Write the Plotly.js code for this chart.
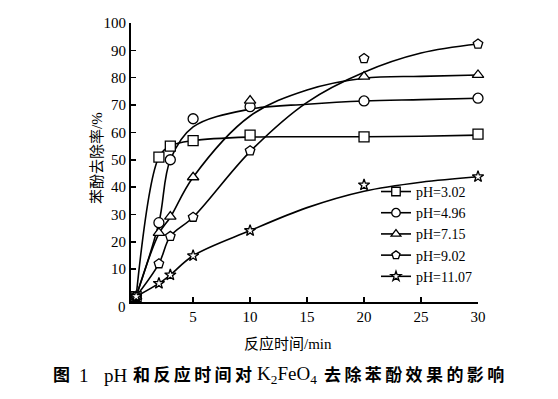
<!DOCTYPE html>
<html><head><meta charset="utf-8">
<script src="https://cdn.plot.ly/plotly-3.0.1.min.js"></script>
<style>html,body{margin:0;padding:0;background:#fff}</style>
</head><body><div id="chart" style="width:558px;height:399px"></div>
<script>
// Measured points (reaction time, min) and phenol removal rate (%)
const timeMin = [0, 2, 3, 5, 10, 20, 30];
const seriesNames = ['pH=3.02', 'pH=4.96', 'pH=7.15', 'pH=9.02', 'pH=11.07'];
const rate_pH302 = [0, 51, 55, 57, 59, 58.4, 59.4];
const rate_pH496 = [0, 27, 50, 65, 69.4, 71.5, 72.5];
const rate_pH715 = [0, 23.3, 29.2, 43.6, 71.6, 80.4, 81];
const rate_pH902 = [0, 12, 22, 29, 53.3, 87, 92.3];
const rate_pH1107 = [0, 4.8, 7.9, 14.9, 24.1, 40.8, 43.8];
// Fitted curves
const fitTime = [0, 2, 3, 5, 10, 15, 20, 25, 30];
const fit_pH302 = [0, 51, 55, 57, 58.3, 58.4, 58.4, 58.6, 59];
const fit_pH496 = [0, 27, 50, 62, 68.5, 70.3, 71.5, 72, 72.5];
const fit_pH715 = [0, 23, 29, 43.6, 66, 75.5, 79.8, 80.5, 81];
const fit_pH902 = [0, 12, 22, 29, 53, 71, 82, 89, 92.3];
const fit_pH1107 = [0, 4.8, 7.9, 14.9, 24.1, 32.5, 38.5, 41.8, 43.8];
const xTicks = [5, 10, 15, 20, 25, 30];
const yTicks = [10, 20, 30, 40, 50, 60, 70, 80, 90, 100];

const measured = [rate_pH302, rate_pH496, rate_pH715, rate_pH902, rate_pH1107];
const fitted = [fit_pH302, fit_pH496, fit_pH715, fit_pH902, fit_pH1107];
const symbols = ['square', 'circle', 'triangle-up', 'pentagon', 'star'];
const sizes = [10, 10, 10, 10, 8.5];
const legendSizes = [8.5, 8.5, 8.5, 8.5, 7.5];

const serif = 'Liberation Serif, Times New Roman, Noto Sans CJK SC, serif';
const traces = [];
fitted.forEach((f, i) => traces.push({
  x: fitTime, y: f, mode: 'lines', type: 'scatter', showlegend: false,
  line: {color: '#000', width: 1.6, shape: 'spline', smoothing: 1}, hoverinfo: 'skip'
}));
measured.forEach((m, i) => traces.push({
  x: timeMin, y: m, mode: 'markers', type: 'scatter', showlegend: false,
  marker: {symbol: symbols[i], size: sizes[i], color: '#fff', line: {color: '#000', width: 1.3}},
  cliponaxis: false
}));
seriesNames.forEach((n, i) => traces.push({
  x: [null], y: [null], mode: 'lines+markers', type: 'scatter', name: n,
  line: {color: '#000', width: 1.6},
  marker: {symbol: symbols[i], size: legendSizes[i], color: '#fff', line: {color: '#000', width: 1.3}}
}));

const px = v => (v - 131) / 347;
const py = v => (302 - v) / 279;
const capY = py(375);
const ts = '\u2009';
const capFontB = {family: serif, size: 17, color: '#000', weight: 700};
const capFontR = {family: serif, size: 19, color: '#000'};
function cap(text, x, font) {
  return {text: text, xref: 'paper', yref: 'paper', x: px(x), y: capY, xanchor: 'left', yanchor: 'middle',
          showarrow: false, font: font, borderpad: 0};
}

const layout = {
  width: 558, height: 399,
  margin: {l: 131, r: 80, t: 23, b: 97, pad: 0},
  paper_bgcolor: '#fff', plot_bgcolor: '#fff',
  font: {family: serif, size: 15, color: '#000'},
  xaxis: {
    range: [-0.45, 30], tickvals: xTicks, ticks: 'inside', ticklen: 5, tickwidth: 1.5,
    tickcolor: '#000', showline: true, linewidth: 2, linecolor: '#000',
    showgrid: false, zeroline: false, tickfont: {family: serif, size: 15, color: '#000'}
  },
  yaxis: {
    range: [-2, 100], tickvals: yTicks, ticks: 'inside', ticklen: 5, tickwidth: 1.5,
    tickcolor: '#000', showline: true, linewidth: 2, linecolor: '#000',
    showgrid: false, zeroline: false, tickfont: {family: serif, size: 15, color: '#000'}
  },
  legend: {
    x: 0.706, y: 0.244, xanchor: 'left', yanchor: 'middle',
    bgcolor: 'rgba(0,0,0,0)', font: {family: serif, size: 14, color: '#000'},
    itemwidth: 30, tracegroupgap: 0
  },
  annotations: [
    {text: '0', xref: 'paper', yref: 'paper', x: -0.027, y: -0.018, xanchor: 'center', yanchor: 'middle',
     showarrow: false, font: {family: serif, size: 15, color: '#000'}},
    {text: '反应时间/min', xref: 'paper', yref: 'paper', x: 0.452, y: -0.147, xanchor: 'center', yanchor: 'middle',
     showarrow: false, font: {family: serif, size: 15, color: '#000'}},
    {text: '苯酚去除率/%', xref: 'paper', yref: 'paper', x: -0.098, y: 0.516, xanchor: 'center', yanchor: 'middle',
     textangle: -90, showarrow: false, font: {family: serif, size: 15, color: '#000'}},
    cap('图', 52, capFontB),
    cap('1', 78, capFontR),
    cap('pH', 103, capFontR),
    cap(['和','反','应','时','间','对'].join(ts), 132, capFontB),
    cap('K<sub>2</sub>FeO<sub>4</sub>', 256, capFontR),
    cap(['去','除','苯','酚','效','果','的','影','响'].join(ts), 323, capFontB)
  ]
};
Plotly.newPlot('chart', traces, layout, {displayModeBar: false, staticPlot: true});
</script></body></html>
